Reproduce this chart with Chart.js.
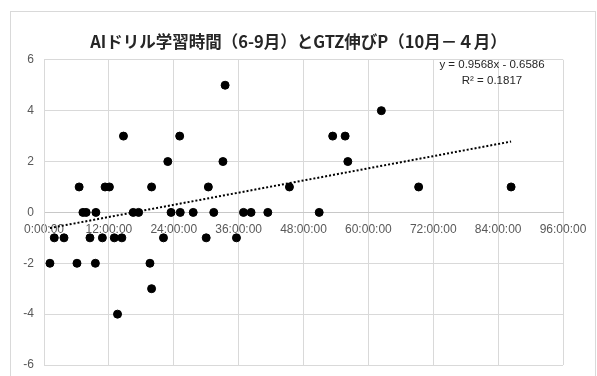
<!DOCTYPE html>
<html>
<head>
<meta charset="utf-8">
<script src="https://cdn.jsdelivr.net/npm/chart.js@4/dist/chart.umd.min.js"></script>
<style>
  html, body { margin: 0; padding: 0; background: #fff; }
  #wrap { width: 597px; height: 376px; position: relative; }
</style>
</head>
<body>
<div id="wrap"><canvas id="myChart"></canvas></div>
<script>
// 学習時間 (時間) と GTZ伸びP
const studyHours = [1.1, 1.9, 3.7, 6.1, 6.5, 7.2, 7.8, 8.5, 9.5, 9.6, 10.8, 11.3, 12.1, 13.0, 13.6,
  14.4, 14.7, 16.5, 17.5, 19.6, 19.9, 19.9, 22.1, 22.9, 23.5, 25.1, 25.2, 27.6, 30.0, 30.4,
  31.4, 33.1, 33.5, 35.6, 36.9, 38.3, 41.4, 45.4, 50.9, 53.4, 55.7, 56.2, 62.4, 69.3, 86.4];
const gtzGain = [-2, -1, -1, -2, 1, 0, 0, -1, -2, 0, -1, 1, 1, -1, -4,
  -1, 3, 0, 0, -2, 1, -3, -1, 2, 0, 3, 0, 0, -1, 1,
  0, 2, 5, -1, 0, 0, 0, 1, 0, 3, 3, 2, 4, 1, 1];
const xTicks = [0, 12, 24, 36, 48, 60, 72, 84, 96];
const yTicks = [-6, -4, -2, 0, 2, 4, 6];
// 近似曲線 (Excel の表示値, x は日単位)
const trendSlope = 0.9568;
const trendIntercept = -0.6586;
const trendR2 = 0.1817;
const chartTitle = 'AIドリル学習時間（6-9月）とGTZ伸びP（10月－４月）';

const points = studyHours.map((h, i) => ({ x: h, y: gtzGain[i] }));
const xMin = Math.min(...studyHours);
const xMax = Math.max(...studyHours);
const trendPoints = [xMin, xMax].map(h => ({ x: h, y: trendSlope * h / 24 + trendIntercept }));

// 枠と数式ラベル
const frame = {
  id: 'frame',
  beforeDraw(chart) {
    const c = chart.ctx;
    c.save();
    c.fillStyle = '#fff';
    c.fillRect(0, 0, chart.width, chart.height);
    c.strokeStyle = '#d9d9d9';
    c.lineWidth = 1;
    c.strokeRect(10.5, 11.5, 585, 370);
    c.restore();
  },
  afterDraw(chart) {
    const a = chart.chartArea;
    const c = chart.ctx;
    c.save();
    c.fillStyle = '#262626';
    c.font = '11.5px "Liberation Sans", Arial, sans-serif';
    c.textAlign = 'center';
    c.textBaseline = 'middle';
    const cx = a.right - 71;
    c.fillText('y = ' + trendSlope + 'x - ' + Math.abs(trendIntercept), cx, a.top + 5);
    c.fillText('R² = ' + trendR2, cx, a.top + 21);
    c.restore();
  }
};

const ctx = document.getElementById('myChart').getContext('2d');
new Chart(ctx, {
  type: 'scatter',
  data: {
    datasets: [
      {
        label: 'trend',
        type: 'line',
        data: trendPoints,
        borderColor: '#000',
        borderWidth: 2,
        borderDash: [2, 2],
        pointRadius: 0,
        fill: false,
        order: 2
      },
      {
        label: 'GTZ',
        data: points,
        backgroundColor: '#000',
        borderColor: '#000',
        pointRadius: 4,
        pointHoverRadius: 4,
        order: 1
      }
    ]
  },
  options: {
    responsive: true,
    maintainAspectRatio: false,
    animation: false,
    devicePixelRatio: 1,
    layout: { padding: { left: 0, right: 0, top: 0, bottom: 11 } },
    plugins: {
      legend: { display: false },
      tooltip: { enabled: false },
      title: {
        display: true,
        text: chartTitle,
        color: '#262626',
        font: { family: '"Noto Sans CJK JP", sans-serif', size: 16.5, weight: 'bold', lineHeight: 1.2 },
        padding: { top: 32, bottom: 8 }
      }
    },
    scales: {
      x: {
        type: 'linear',
        position: { y: 0 },
        min: 0,
        max: 96,
        afterBuildTicks: s => { s.ticks = xTicks.map(v => ({ value: v })); },
        afterFit: s => { s.paddingTop = 0; s.paddingBottom = 0; },
        grid: { color: '#d9d9d9', drawTicks: false },
        border: { color: '#c8c8c8' },
        ticks: {
          padding: 10,
          color: '#595959',
          font: { family: '"Liberation Sans", Arial, sans-serif', size: 12 },
          maxRotation: 0,
          callback: v => v + ':00:00'
        }
      },
      y: {
        min: -6,
        max: 6,
        afterBuildTicks: s => { s.ticks = yTicks.map(v => ({ value: v })); },
        afterFit: s => { s.width = 44; s.paddingTop = 0; s.paddingBottom = 0; },
        grid: { color: '#d9d9d9', drawTicks: false },
        border: { color: '#d9d9d9' },
        ticks: {
          padding: 10,
          color: '#595959',
          font: { family: '"Liberation Sans", Arial, sans-serif', size: 12 }
        }
      },
      // 右側の余白用
      yRight: {
        position: 'right',
        min: -6,
        max: 6,
        afterFit: s => { s.width = 34; s.paddingTop = 0; s.paddingBottom = 0; },
        grid: { display: false, drawTicks: false },
        border: { display: false },
        ticks: { display: false }
      }
    }
  },
  plugins: [frame]
});
</script>
</body>
</html>
